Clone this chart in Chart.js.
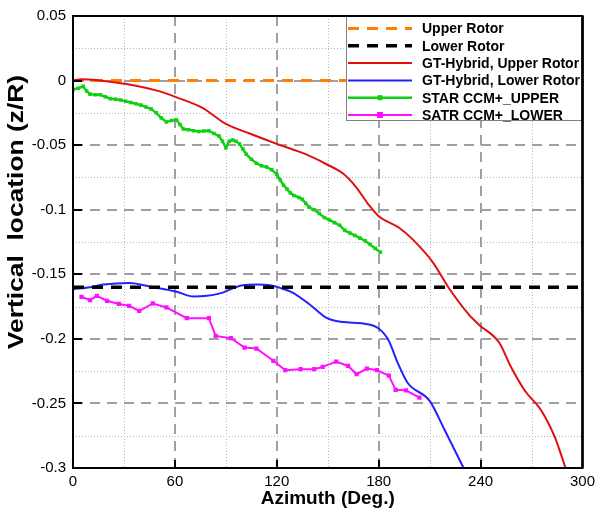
<!DOCTYPE html>
<html><head><meta charset="utf-8">
<script src="https://cdn.jsdelivr.net/npm/chart.js@4/dist/chart.umd.min.js"></script>
<style>html,body{margin:0;padding:0;background:#fff}#wrap{width:600px;height:508px}</style>
</head><body><div id="wrap"><canvas id="c" width="600" height="508"></canvas></div>
<script>
// ---- tick labels ----
const xTicks = [0, 60, 120, 180, 240, 300];
const yTicks = [0.05, 0, -0.05, -0.1, -0.15, -0.2, -0.25, -0.3];

// ---- reference rotor planes ----
const upperRotorX = [0, 300];
const upperRotorY = [0, 0];
const lowerRotorX = [0, 300];
const lowerRotorY = [-0.16, -0.16];

// ---- GT-Hybrid, Upper Rotor ----
const gtUpperX = [0, 5, 12, 22, 37, 50, 61, 76, 90, 104, 120, 137, 149, 159, 167, 174, 180, 192, 200, 212, 221, 233, 239, 251, 258, 266, 276, 284, 290];
const gtUpperY = [0, 0.001, 0.0006, -0.001, -0.004, -0.008, -0.013, -0.021, -0.0336, -0.041, -0.049, -0.057, -0.0646, -0.072, -0.083, -0.096, -0.105, -0.114, -0.123, -0.141, -0.160, -0.181, -0.189, -0.203, -0.222, -0.240, -0.256, -0.277, -0.300];

// ---- GT-Hybrid, Lower Rotor ----
const gtLowerX = [0, 10, 18, 33, 47, 61, 71, 79, 86, 100, 108, 116, 123, 129, 139, 149, 159, 170, 180, 186, 191, 197, 210, 219, 230];
const gtLowerY = [-0.1615, -0.160, -0.158, -0.1568, -0.160, -0.1635, -0.1672, -0.1667, -0.165, -0.1585, -0.158, -0.1585, -0.161, -0.164, -0.173, -0.1835, -0.187, -0.188, -0.192, -0.2016, -0.218, -0.234, -0.248, -0.271, -0.300];

// ---- STAR CCM+_UPPER ----
const starUpperX = [0, 3, 6, 8, 10, 13, 16, 19, 22, 25, 28, 31, 34, 37, 40, 43, 46, 49, 52, 55, 58, 61, 63, 65, 68, 71, 74, 77, 80, 83, 86, 88, 90, 92, 94, 96, 98, 100, 102, 105, 108, 111, 114, 117, 120, 122, 124, 126, 128, 130, 133, 135, 137, 139, 142, 145, 148, 151, 154, 157, 160, 163, 166, 169, 172, 175, 178, 181];
const starUpperY = [-0.007, -0.006, -0.0045, -0.008, -0.0105, -0.011, -0.011, -0.0125, -0.014, -0.0145, -0.015, -0.016, -0.017, -0.018, -0.019, -0.0205, -0.022, -0.025, -0.029, -0.032, -0.031, -0.0305, -0.034, -0.0375, -0.038, -0.0388, -0.0395, -0.039, -0.0388, -0.041, -0.043, -0.047, -0.052, -0.047, -0.046, -0.047, -0.049, -0.053, -0.057, -0.061, -0.064, -0.066, -0.067, -0.069, -0.0725, -0.077, -0.081, -0.084, -0.087, -0.089, -0.0905, -0.092, -0.095, -0.098, -0.100, -0.103, -0.106, -0.108, -0.110, -0.112, -0.116, -0.118, -0.120, -0.122, -0.124, -0.127, -0.130, -0.133];

// ---- SATR CCM+_LOWER ----
const starLowerX = [5, 10, 14, 20, 27, 33, 39, 47, 55, 67, 80, 84, 93, 101, 108, 118, 125, 134, 142, 147, 155, 162, 167, 173, 179, 186, 190, 196, 204];
const starLowerY = [-0.1674, -0.170, -0.1667, -0.1705, -0.173, -0.1744, -0.1783, -0.1726, -0.1757, -0.184, -0.184, -0.1977, -0.1995, -0.2067, -0.2075, -0.217, -0.2243, -0.2235, -0.2235, -0.2217, -0.2176, -0.221, -0.2274, -0.223, -0.2243, -0.2285, -0.2395, -0.2398, -0.2455];

const labels = ['Upper Rotor', 'Lower Rotor', 'GT-Hybrid, Upper Rotor', 'GT-Hybrid, Lower Rotor', 'STAR CCM+_UPPER', 'SATR CCM+_LOWER'];

const pts = (xs, ys) => xs.map((v, i) => ({x: v, y: ys[i]}));
const FONT = '"Liberation Sans", Arial, sans-serif';

const datasets = [
  {label: labels[0], data: pts(upperRotorX, upperRotorY), borderColor: '#ff8000', borderWidth: 3, borderDash: [11, 8], pointRadius: 0, order: 4},
  {label: labels[1], data: pts(lowerRotorX, lowerRotorY), borderColor: '#000000', borderWidth: 3.5, borderDash: [11, 8], pointRadius: 0, order: 3},
  {label: labels[2], data: pts(gtUpperX, gtUpperY), borderColor: '#e01010', borderWidth: 2, pointRadius: 0, cubicInterpolationMode: 'monotone', order: 1},
  {label: labels[3], data: pts(gtLowerX, gtLowerY), borderColor: '#2222ff', borderWidth: 2, pointRadius: 0, cubicInterpolationMode: 'monotone', order: 5},
  {label: labels[4], data: pts(starUpperX, starUpperY), borderColor: '#10d010', backgroundColor: '#10d010', borderWidth: 2.5, pointStyle: 'rect', pointRadius: 2.5, pointBorderWidth: 0, order: 2},
  {label: labels[5], data: pts(starLowerX, starLowerY), borderColor: '#ff10ff', backgroundColor: '#ff10ff', borderWidth: 2, pointStyle: 'rect', pointRadius: 3, pointBorderWidth: 0, order: 2}
];

const decorPlugin = {
  id: 'decor',
  beforeDatasetsDraw(chart) {
    const {ctx, chartArea: {left, right, top, bottom}, scales: {x, y}} = chart;
    ctx.save();
    ctx.strokeStyle = '#b8b8b8'; ctx.lineWidth = 1; ctx.setLineDash([1, 2]);
    for (let i = 0; i < xTicks.length - 1; i++) {
      const px = Math.round(x.getPixelForValue((xTicks[i] + xTicks[i + 1]) / 2)) + 0.5;
      ctx.beginPath(); ctx.moveTo(px, top); ctx.lineTo(px, bottom); ctx.stroke();
    }
    for (let i = 0; i < yTicks.length - 1; i++) {
      const py = Math.round(y.getPixelForValue((yTicks[i] + yTicks[i + 1]) / 2)) + 0.5;
      ctx.beginPath(); ctx.moveTo(left, py); ctx.lineTo(right, py); ctx.stroke();
    }
    ctx.strokeStyle = '#a0a0a0'; ctx.lineWidth = 2; ctx.setLineDash([10, 7]);
    xTicks.slice(1, -1).forEach(v => {
      const px = Math.round(x.getPixelForValue(v));
      ctx.beginPath(); ctx.moveTo(px, bottom); ctx.lineTo(px, top); ctx.stroke();
    });
    yTicks.slice(1, -1).forEach(v => {
      const py = Math.round(y.getPixelForValue(v));
      ctx.beginPath(); ctx.moveTo(left, py); ctx.lineTo(right, py); ctx.stroke();
    });
    ctx.restore();
  },
  afterDatasetsDraw(chart) {
    const {ctx, chartArea: {left, right, top, bottom}, scales: {x, y}} = chart;
    ctx.save();
    const bx = 346, by = top, bw = right - 346, bh = 104;
    ctx.fillStyle = '#fff'; ctx.fillRect(bx, by, bw, bh);
    ctx.strokeStyle = '#808080'; ctx.lineWidth = 1; ctx.setLineDash([]);
    ctx.strokeRect(bx + 0.5, by + 0.5, bw, bh);
    chart.data.datasets.forEach((ds, i) => {
      const cy = by + 12.5 + i * 17.3;
      ctx.save();
      ctx.strokeStyle = ds.borderColor; ctx.lineWidth = ds.borderWidth;
      ctx.setLineDash(ds.borderDash || []);
      ctx.beginPath(); ctx.moveTo(bx + 2, cy); ctx.lineTo(bx + 66, cy); ctx.stroke();
      if (ds.pointRadius > 0) {
        ctx.fillStyle = ds.backgroundColor;
        const r = ds.pointRadius;
        ctx.fillRect(bx + 34 - r, cy - r, 2 * r, 2 * r);
      }
      ctx.restore();
      ctx.fillStyle = '#000'; ctx.font = 'bold 14px ' + FONT;
      ctx.textAlign = 'left'; ctx.textBaseline = 'middle';
      ctx.fillText(ds.label, bx + 76, cy + 1);
    });
    ctx.strokeStyle = '#000'; ctx.lineWidth = 2; ctx.setLineDash([]);
    ctx.strokeRect(left, top, right - left, bottom - top);
    ctx.lineWidth = 2.5;
    ctx.beginPath(); ctx.moveTo(right, top); ctx.lineTo(right, bottom); ctx.stroke();
    ctx.lineWidth = 2;
    yTicks.slice(1, -1).forEach(v => {
      const py = Math.round(y.getPixelForValue(v));
      ctx.beginPath(); ctx.moveTo(left, py); ctx.lineTo(left + 9, py); ctx.stroke();
    });
    xTicks.slice(1, -1).forEach(v => {
      const px = Math.round(x.getPixelForValue(v));
      ctx.beginPath(); ctx.moveTo(px, bottom); ctx.lineTo(px, bottom - 8); ctx.stroke();
    });
    ctx.save();
    ctx.translate(17, 212); ctx.rotate(-Math.PI / 2); ctx.scale(1.2, 1);
    ctx.fillStyle = '#000'; ctx.font = 'bold 22px ' + FONT;
    ctx.textAlign = 'center'; ctx.textBaseline = 'middle';
    ctx.fillText('Vertical  location (z/R)', 0, 0);
    ctx.restore();
    ctx.restore();
  }
};

new Chart(document.getElementById('c'), {
  type: 'line',
  data: {datasets},
  options: {
    responsive: false,
    animation: false,
    devicePixelRatio: 1,
    layout: {padding: {top: 16, right: 16, left: 0, bottom: 0}},
    elements: {line: {tension: 0}},
    plugins: {legend: {display: false}, tooltip: {enabled: false}},
    scales: {
      x: {
        type: 'linear', min: 0, max: 300,
        afterBuildTicks: s => { s.ticks = xTicks.map(v => ({value: v})); },
        afterFit: s => { s.height = 40; },
        grid: {display: false, drawTicks: false},
        border: {display: false},
        ticks: {color: '#000', font: {family: FONT, size: 15}, padding: 5, maxRotation: 0, autoSkip: false},
        title: {display: true, text: 'Azimuth (Deg.)', color: '#000', font: {family: FONT, size: 19, weight: 'bold', lineHeight: 1}, padding: {top: 0, bottom: 0}}
      },
      y: {
        type: 'linear', min: -0.3, max: 0.05,
        afterBuildTicks: s => { s.ticks = yTicks.map(v => ({value: v})); },
        afterFit: s => { s.width = 73; },
        grid: {display: false, drawTicks: false},
        border: {display: false},
        ticks: {color: '#000', font: {family: FONT, size: 15}, padding: 7, autoSkip: false,
          callback: v => String(parseFloat(Number(v).toFixed(3)))}
      }
    }
  },
  plugins: [decorPlugin]
});
</script>
</body></html>
